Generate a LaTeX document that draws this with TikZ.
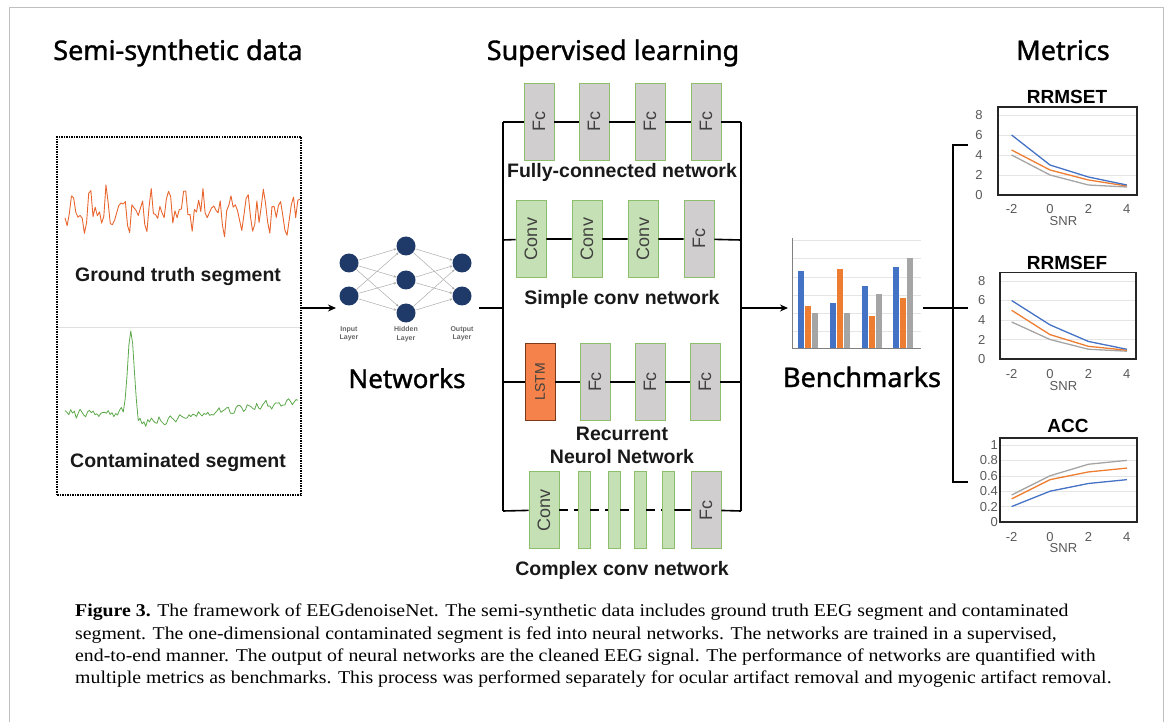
\documentclass[tikz,border=0pt]{standalone}
\usepackage{fontspec}
\setmainfont{Liberation Serif}
\newfontfamily\headfont[FakeBold=1.3]{Noto Sans}
\newfontfamily\labelfont{Liberation Sans}
\newfontfamily\capfont[FakeStretch=1.1]{Liberation Serif}
\usetikzlibrary{arrows.meta,positioning}
\definecolor{fcgray}{HTML}{D0CECE}
\definecolor{convgreen}{HTML}{C5E0B4}
\definecolor{boxedge}{HTML}{8DBE6C}
\definecolor{lstmorange}{HTML}{F4824A}
\definecolor{lstmedge}{HTML}{7A3A1A}
\definecolor{neuronblue}{HTML}{1F3A68}
\definecolor{darktext}{HTML}{404040}
\definecolor{tickgray}{HTML}{595959}
\definecolor{seriesblue}{HTML}{4472C4}
\definecolor{seriesorange}{HTML}{ED7D31}
\definecolor{seriesgray}{HTML}{A5A5A5}
\definecolor{eegorange}{HTML}{E8662E}
\definecolor{eeggreen}{HTML}{5BA84A}
\begin{document}
\begin{tikzpicture}[x=1pt,y=-1pt,
    wire/.style={line width=1.6pt, black},
    heading/.style={font=\headfont\fontsize{27}{32}\selectfont, anchor=base, inner sep=0pt},
    blocklabel/.style={font=\labelfont\bfseries\fontsize{19.5}{23}\selectfont, anchor=base, inner sep=0pt, text=black!90},
    layerbox/.style={draw=boxedge, line width=0.8pt, rotate=90, minimum width=77pt, minimum height=30pt, inner sep=0pt, text=darktext, font=\labelfont\fontsize{18}{20}\selectfont},
    fcbox/.style={layerbox, fill=fcgray},
    convbox/.style={layerbox, fill=convgreen},
    thinbox/.style={layerbox, fill=convgreen, minimum height=12pt},
    lstmbox/.style={layerbox, fill=lstmorange, draw=lstmedge, font=\labelfont\fontsize{14}{16}\selectfont},
    neuron/.style={circle, fill=neuronblue, minimum size=19pt, inner sep=0pt},
    synapse/.style={draw=gray!65, line width=0.5pt, -{Stealth[length=3pt,width=2.5pt]}},
    layername/.style={font=\labelfont\bfseries\fontsize{7}{8.5}\selectfont, text=gray!80!black, align=center},
    ticklabel/.style={font=\labelfont\fontsize{13}{15}\selectfont, text=tickgray, inner sep=1pt},
    charttitle/.style={font=\labelfont\bfseries\fontsize{19}{22}\selectfont, anchor=base, inner sep=0pt},
    chartgrid/.style={draw=gray!20, line width=0.5pt},
    chartframe/.style={draw=black!85, line width=1.2pt},
    curve/.style={line width=1.3pt}]
   \useasboundingbox (0,0) rectangle (1168,722);
   \draw[gray!50, line width=1pt] (9,723) -- (9,8) -- (1163,8) -- (1163,723);

   % headings
   \node[heading] (hdata) at (178,60) {Semi-synthetic data};
   \node[heading] (hlearn) at (613,60) {Supervised learning};
   \node[heading] (hmetric) at (1063,60) {Metrics};

   % semi-synthetic data
   \node[draw, densely dotted, line width=1.5pt, minimum width=244pt, minimum height=358pt, inner sep=0pt] (segbox) at (179,316) {};
   \draw[gray!25, line width=0.6pt] (58,327) -- (300,327);
   \pgfmathsetseed{11}
   \draw[eegorange, line width=0.9pt, line join=round] plot[domain=0:235, samples=110]
      (\x+65, {211 + 10*sin(23*\x+40) + 8*sin(41*\x) + 11*rand});
   \draw[eeggreen, line width=0.8pt, line join=round] plot[domain=0:233, samples=125]
      (\x+65, {413 + (\x>72)*(11-0.144*(\x-72)) - 83*exp(-((\x-66)/4.3)^2) + 3.5*rand + 2*sin(37*\x)});
   \node[blocklabel] (gtlabel) at (178,282) {Ground truth segment};
   \node[blocklabel] (ctlabel) at (178,467) {Contaminated segment};

   % networks
   \node[neuron] (in1) at (349,263) {};
   \node[neuron] (in2) at (349,296) {};
   \node[neuron] (hid1) at (406,246) {};
   \node[neuron] (hid2) at (406,280) {};
   \node[neuron] (hid3) at (406,313) {};
   \node[neuron] (out1) at (462,263) {};
   \node[neuron] (out2) at (462,296) {};
   \foreach \i in {1,2}
      \foreach \h in {1,2,3}
         \draw[synapse] (in\i) -- (hid\h);
   \foreach \h in {1,2,3}
      \foreach \o in {1,2}
         \draw[synapse] (hid\h) -- (out\o);
   \node[layername] (lin) at (349,334) {Input\\Layer};
   \node[layername] (lhid) at (406,334) {Hidden\\Layer};
   \node[layername] (lout) at (462,334) {Output\\Layer};
   \node[heading, font=\headfont\fontsize{26}{30}\selectfont] (hnet) at (407,388) {Networks};
   \coordinate (netin) at (336,308);
   \coordinate (netout) at (479,308);
   \draw[wire, -{Stealth[length=8pt,width=7pt]}] (segbox.east |- netin) -- (netin);

   % supervised learning
   \coordinate (bus1l) at (503,122);
   \coordinate (bus2l) at (503,240);
   \coordinate (bus3l) at (503,382);
   \coordinate (bus4l) at (503,511);
   \coordinate (bus1r) at (741,122);
   \coordinate (bus2r) at (741,240);
   \coordinate (bus3r) at (741,382);
   \coordinate (bus4r) at (741,511);
   \coordinate (busin) at (503,308);
   \coordinate (busout) at (741,308);
   \draw[wire] (bus1l) -- (bus4l);
   \draw[wire] (bus1r) -- (bus4r);
   \draw[wire] (netout) -- (busin);

   \foreach \n/\x in {1/539,2/594,3/650,4/706}
      \node[fcbox] (fc\n) at (\x,122) {Fc};
   \draw[wire] (bus1l) -- (fc1) -- (fc2) -- (fc3) -- (fc4) -- (bus1r);
   \node[blocklabel] (fclabel) at (622,178) {Fully-connected network};

   \foreach \n/\x in {1/531,2/587,3/643}
      \node[convbox] (sconv\n) at (\x,239) {Conv};
   \node[fcbox] (sfc) at (699,239) {Fc};
   \draw[wire] (bus2l) -- (sconv1) -- (sconv2) -- (sconv3) -- (sfc) -- (bus2r);
   \node[blocklabel] (sclabel) at (622,305) {Simple conv network};

   \node[lstmbox] (lstm) at (540,382) {LSTM};
   \foreach \n/\x in {1/595,2/650,3/705}
      \node[fcbox] (rfc\n) at (\x,382) {Fc};
   \draw[wire] (bus3l) -- (lstm) -- (rfc1) -- (rfc2) -- (rfc3) -- (bus3r);
   \node[blocklabel] (rnlabel1) at (622,440) {Recurrent};
   \node[blocklabel] (rnlabel2) at (622,463) {Neurol Network};

   \node[convbox] (cconv) at (544,510) {Conv};
   \foreach \n/\x in {1/584,2/614,3/640,4/668}
      \node[thinbox] (cthin\n) at (\x,510) {};
   \node[fcbox] (cfc) at (706,510) {Fc};
   \draw[wire] (bus4l) -- (cconv);
   \draw[wire, dash pattern=on 9pt off 6pt] (cconv) -- (cthin1) -- (cthin2) -- (cthin3) -- (cthin4);
   \draw[wire] (cthin4) -- (cfc) -- (bus4r);
   \node[blocklabel] (cclabel) at (622,575) {Complex conv network};

   % benchmarks
   \foreach \y in {240,258,277,295,313,331}
      \draw[chartgrid] (792,\y) -- (921,\y);
   \foreach \x/\t/\c in {798/271/seriesblue,805/306/seriesorange,812/313/seriesgray,
                         830/303/seriesblue,837/269/seriesorange,844/313/seriesgray,
                         862/286/seriesblue,869/316/seriesorange,876/294/seriesgray,
                         893/267/seriesblue,900/298/seriesorange,907/258/seriesgray}
      \fill[\c] (\x,348) rectangle (\x+6,\t);
   \draw[gray, line width=0.8pt] (792,238) -- (792,348) -- (921,348);
   \coordinate (benchin) at (788,308);
   \coordinate (benchout) at (923,308);
   \draw[wire, -{Stealth[length=8pt,width=7pt]}] (busout) -- (benchin);
   \node[heading, font=\headfont\fontsize{27}{30}\selectfont] (hbench) at (862,387) {Benchmarks};

   % metrics
   \coordinate (mbus1) at (953,145);
   \coordinate (mbus3) at (953,482);
   \coordinate (mtick1) at (968,145);
   \coordinate (mtick2) at (968,308);
   \coordinate (mtick3) at (968,482);
   \draw[wire] (mtick1) -- (mbus1) -- (mbus3) -- (mtick3);
   \draw[wire] (benchout) -- (mtick2);

   \node[charttitle] (trrmset) at (1067,104) {RRMSET};
   \begin{scope}[shift={(1050,195)}, x=19.2pt, y=10pt]
      \foreach \v in {0,2,4,6,8} {
         \draw[chartgrid] (-2.71,\v) -- (4.53,\v);
         \node[ticklabel, anchor=east] at (-3.45,\v) {\v};
      }
      \foreach \s in {-2,0,2,4}
         \node[ticklabel, anchor=base] at (\s,-1.9) {\s};
      \node[ticklabel, anchor=base] at (0.7,-3.1) {SNR};
      \draw[seriesgray, curve] plot coordinates {(-2,4) (0,2) (2,1) (4,0.8)};
      \draw[seriesorange, curve] plot coordinates {(-2,4.5) (0,2.5) (2,1.5) (4,0.9)};
      \draw[seriesblue, curve] plot coordinates {(-2,6) (0,3) (2,1.8) (4,1)};
      \draw[chartframe] (-2.71,0) rectangle (4.53,8.8);
   \end{scope}

   \node[charttitle] (trrmsef) at (1067,270) {RRMSEF};
   \begin{scope}[shift={(1050,359)}, x=19.2pt, y=9.75pt]
      \foreach \v in {0,2,4,6,8} {
         \draw[chartgrid] (-2.6,\v) -- (4.48,\v);
         \node[ticklabel, anchor=east] at (-3.3,\v) {\v};
      }
      \foreach \s in {-2,0,2,4}
         \node[ticklabel, anchor=base] at (\s,-2.0) {\s};
      \node[ticklabel, anchor=base] at (0.7,-3.2) {SNR};
      \draw[seriesgray, curve] plot coordinates {(-2,3.8) (0,2) (2,1) (4,0.8)};
      \draw[seriesorange, curve] plot coordinates {(-2,5) (0,2.5) (2,1.3) (4,0.9)};
      \draw[seriesblue, curve] plot coordinates {(-2,6) (0,3.5) (2,1.8) (4,1)};
      \draw[chartframe] (-2.6,0) rectangle (4.48,8.9);
   \end{scope}

   \node[charttitle] (tacc) at (1068,432) {ACC};
   \begin{scope}[shift={(1050,522)}, x=19.2pt, y=77pt]
      \foreach \v in {0,0.2,0.4,0.6,0.8,1} {
         \draw[chartgrid] (-2.6,\v) -- (4.53,\v);
         \node[ticklabel, anchor=east] at (-2.65,\v) {\v};
      }
      \foreach \s in {-2,0,2,4}
         \node[ticklabel, anchor=base] at (\s,-0.25) {\s};
      \node[ticklabel, anchor=base] at (0.7,-0.39) {SNR};
      \draw[seriesgray, curve] plot coordinates {(-2,0.35) (0,0.6) (2,0.75) (4,0.8)};
      \draw[seriesorange, curve] plot coordinates {(-2,0.3) (0,0.55) (2,0.65) (4,0.7)};
      \draw[seriesblue, curve] plot coordinates {(-2,0.2) (0,0.4) (2,0.5) (4,0.55)};
      \draw[chartframe] (-2.6,0) rectangle (4.53,1.09);
   \end{scope}

   % caption
   \node[anchor=north west, inner sep=0pt, align=left, font=\capfont\fontsize{18}{22.3}\selectfont] (caption) at (75,604)
      {\textbf{Figure 3.} The framework of EEGdenoiseNet. The semi-synthetic data includes ground truth EEG segment and contaminated\\
       segment. The one-dimensional contaminated segment is fed into neural networks. The networks are trained in a supervised,\\
       end-to-end manner. The output of neural networks are the cleaned EEG signal. The performance of networks are quantified with\\
       multiple metrics as benchmarks. This process was performed separately for ocular artifact removal and myogenic artifact removal.};
\end{tikzpicture}
\end{document}
